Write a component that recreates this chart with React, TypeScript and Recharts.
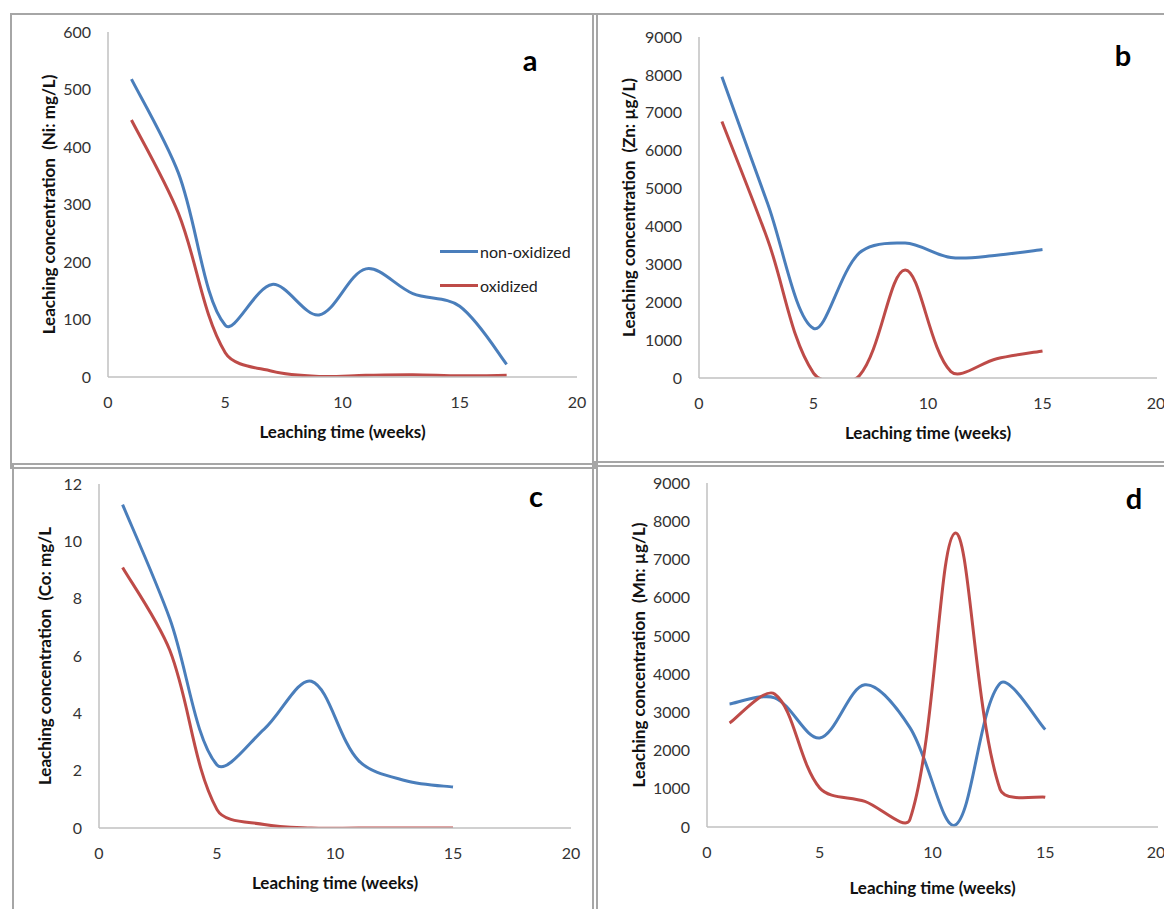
import { LineChart, Line, XAxis, YAxis, Legend } from 'recharts';

const weeksNi = [1, 3, 5, 7, 9, 11, 13, 15, 17];
const niNonOxidized = [518, 355, 90, 161, 108, 188, 145, 123, 22];
const niOxidized = [447, 285, 42, 10, 1, 3, 4, 2, 3];

const weeks = [1, 3, 5, 7, 9, 11, 13, 15];
const znNonOxidized = [7950, 4600, 1310, 3300, 3560, 3180, 3240, 3390];
const znOxidized = [6770, 3650, 130, 60, 2850, 170, 510, 715];
const coNonOxidized = [11.28, 7.3, 2.2, 3.45, 5.12, 2.35, 1.65, 1.43];
const coOxidized = [9.09, 6.2, 0.64, 0.12, 0, 0, 0, 0];
const mnNonOxidized = [3220, 3380, 2330, 3720, 2600, 50, 3760, 2550];
const mnOxidized = [2720, 3480, 1020, 670, 200, 7690, 980, 780];

const xTicks = [0, 5, 10, 15, 20];
const niTicks = [0, 100, 200, 300, 400, 500, 600];
const ugTicks = [0, 1000, 2000, 3000, 4000, 5000, 6000, 7000, 8000, 9000];
const coTicks = [0, 2, 4, 6, 8, 10, 12];

const BLUE = '#4a7ebb';
const RED = '#be4b48';
const FONT = 'Lato, "Open Sans", sans-serif';
const Y_W = 60;
const X_H = 30;

// smoothed line like Excel's: bezier handles scaled by neighbouring chord lengths
const excelSmooth = (context: any) => {
  let pts: number[][] = [];
  return {
    areaStart() {},
    areaEnd() {},
    lineStart() {
      pts = [];
    },
    point(x: number, y: number) {
      pts.push([+x, +y]);
    },
    lineEnd() {
      const n = pts.length;
      if (!n) return;
      context.moveTo(pts[0][0], pts[0][1]);
      const dist = (a: number[], b: number[]) => Math.hypot(b[0] - a[0], b[1] - a[1]) || 1e-6;
      for (let i = 0; i < n - 1; i++) {
        const p0 = pts[Math.max(i - 1, 0)];
        const p1 = pts[i];
        const p2 = pts[i + 1];
        const p3 = pts[Math.min(i + 2, n - 1)];
        const d01 = i > 0 ? dist(p0, p1) : 0;
        const d12 = dist(p1, p2);
        const d23 = i + 2 < n ? dist(p2, p3) : 0;
        const f1 = i > 0 ? d12 / (d01 + d12) / 3 : 1 / 6;
        const f2 = i + 2 < n ? d12 / (d12 + d23) / 3 : 1 / 6;
        context.bezierCurveTo(
          p1[0] + (p2[0] - p0[0]) * f1,
          p1[1] + (p2[1] - p0[1]) * f1,
          p2[0] - (p3[0] - p1[0]) * f2,
          p2[1] - (p3[1] - p1[1]) * f2,
          p2[0],
          p2[1]
        );
      }
    },
  };
};

const toRows = (x: number[], a: number[], b: number[]) =>
  x.map((w, i) => ({ week: w, nonOxidized: a[i], oxidized: b[i] }));

type Box = { x: number; y: number; w: number; h: number };
type Plot = { l: number; t: number; r: number; b: number };

type PanelProps = {
  box: Box;
  plot: Plot;
  rows: { week: number; nonOxidized: number; oxidized: number }[];
  yTicks: number[];
  yTitle: string;
  yTitleOff: number;
  xTitleOff: number;
  letter: string;
  letterPos: [number, number];
  legend?: [number, number];
};

const titleStyle = { fontFamily: FONT, fontSize: 17, fontWeight: 700, fill: '#111', whiteSpace: 'pre' } as any;

function LegendBox({ payload }: any) {
  return (
    <div style={{ fontFamily: FONT, fontSize: 16, color: '#222' }}>
      {(payload || []).map((p: any) => (
        <div key={p.value} style={{ display: 'flex', alignItems: 'center', height: 34 }}>
          <span style={{ display: 'inline-block', width: 38, height: 3, background: p.color, marginRight: 2 }} />
          <span>{p.value}</span>
        </div>
      ))}
    </div>
  );
}

function Panel({ box, plot, rows, yTicks, yTitle, yTitleOff, xTitleOff, letter, letterPos, legend }: PanelProps) {
  const margin = {
    left: plot.l - box.x - Y_W,
    top: plot.t - box.y,
    right: box.x + box.w - plot.r,
    bottom: box.y + box.h - plot.b - X_H,
  };
  const tickStyle = { fontFamily: FONT, fontSize: 16, fill: '#333' };
  return (
    <>
      <div
        style={{
          position: 'absolute',
          left: box.x,
          top: box.y,
          width: box.w + 6,
          height: box.h + 6,
          border: '2px solid #a6a6a6',
          boxSizing: 'border-box',
        }}
      />
      <div style={{ position: 'absolute', left: box.x, top: box.y }}>
        <LineChart width={box.w} height={box.h} data={rows} margin={margin}>
          <XAxis
            dataKey="week"
            type="number"
            domain={[0, 20]}
            ticks={xTicks}
            height={X_H}
            tickLine={false}
            tickSize={0}
            tickMargin={20}
            tick={tickStyle}
            stroke="#c0c0c0"
            strokeWidth={1.5}
            label={(p: any) => (
              <text
                x={p.viewBox.x + p.viewBox.width / 2}
                y={p.viewBox.y + xTitleOff}
                textAnchor="middle"
                dominantBaseline="central"
                style={titleStyle}
              >
                Leaching time (weeks)
              </text>
            )}
          />
          <YAxis
            type="number"
            domain={[0, yTicks[yTicks.length - 1]]}
            ticks={yTicks}
            allowDataOverflow
            width={Y_W}
            tickLine={false}
            tickSize={0}
            tickMargin={17}
            tick={tickStyle}
            stroke="#c0c0c0"
            strokeWidth={1.5}
            label={(p: any) => {
              const cx = p.viewBox.x + p.viewBox.width - yTitleOff;
              const cy = p.viewBox.y + p.viewBox.height / 2;
              return (
                <text
                  x={cx}
                  y={cy}
                  transform={`rotate(-90 ${cx} ${cy})`}
                  textAnchor="middle"
                  dominantBaseline="central"
                  style={titleStyle}
                >
                  {yTitle}
                </text>
              );
            }}
          />
          {legend && (
            <Legend
              layout="vertical"
              align="center"
              verticalAlign="middle"
              content={<LegendBox />}
              wrapperStyle={{ left: legend[0] - box.x, top: legend[1] - box.y, width: 160, height: 70 }}
            />
          )}
          <Line
            dataKey="nonOxidized"
            name="non-oxidized"
            type={excelSmooth as any}
            stroke={BLUE}
            strokeWidth={3}
            dot={false}
            isAnimationActive={false}
          />
          <Line
            dataKey="oxidized"
            name="oxidized"
            type={excelSmooth as any}
            stroke={RED}
            strokeWidth={3}
            dot={false}
            isAnimationActive={false}
          />
        </LineChart>
      </div>
      <div
        style={{
          position: 'absolute',
          left: letterPos[0] - 20,
          top: letterPos[1] - 30,
          width: 40,
          textAlign: 'center',
          fontFamily: FONT,
          fontWeight: 700,
          fontSize: 29,
          lineHeight: '36px',
          color: '#000',
        }}
      >
        {letter}
      </div>
    </>
  );
}

export default function App() {
  return (
    <div
      style={{
        position: 'absolute',
        left: 0,
        top: 0,
        width: 1164,
        height: 909,
        overflow: 'hidden',
        background: '#fff',
      }}
    >
      <Panel
        box={{ x: 10, y: 13, w: 582, h: 450 }}
        plot={{ l: 108, t: 32, r: 577, b: 377 }}
        rows={toRows(weeksNi, niNonOxidized, niOxidized)}
        yTicks={niTicks}
        yTitle="Leaching concentration  (Ni: mg/L)"
        yTitleOff={60}
        xTitleOff={54}
        letter="a"
        letterPos={[530, 72]}
        legend={[440, 234]}
      />
      <Panel
        box={{ x: 592, y: 13, w: 572, h: 448 }}
        plot={{ l: 699, t: 37, r: 1157, b: 378 }}
        rows={toRows(weeks, znNonOxidized, znOxidized)}
        yTicks={ugTicks}
        yTitle="Leaching concentration  (Zn: µg/L)"
        yTitleOff={71}
        xTitleOff={54}
        letter="b"
        letterPos={[1123, 67]}
      />
      <Panel
        box={{ x: 12, y: 463, w: 580, h: 446 }}
        plot={{ l: 99, t: 484, r: 571, b: 828 }}
        rows={toRows(weeks, coNonOxidized, coOxidized)}
        yTicks={coTicks}
        yTitle="Leaching concentration  (Co: mg/L"
        yTitleOff={55}
        xTitleOff={54}
        letter="c"
        letterPos={[536, 508]}
      />
      <Panel
        box={{ x: 592, y: 461, w: 572, h: 448 }}
        plot={{ l: 707, t: 483, r: 1158, b: 827 }}
        rows={toRows(weeks, mnNonOxidized, mnOxidized)}
        yTicks={ugTicks}
        yTitle="Leaching concentration  (Mn: µg/L)"
        yTitleOff={69}
        xTitleOff={60}
        letter="d"
        letterPos={[1134, 510]}
      />
    </div>
  );
}
